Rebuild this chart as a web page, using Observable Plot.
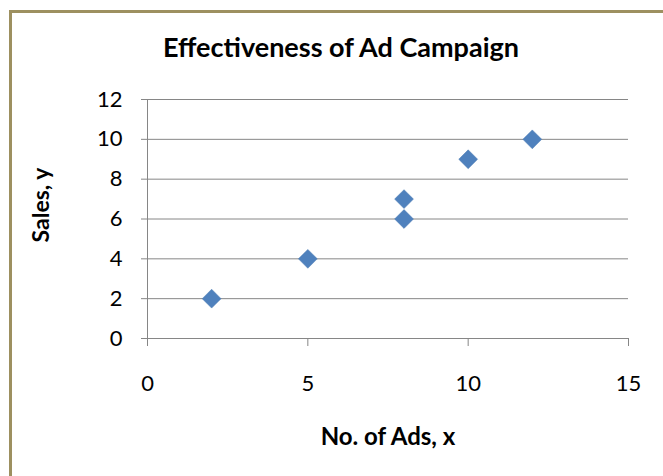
<!DOCTYPE html>
<html>
<head>
<meta charset="utf-8">
<script src="https://cdn.jsdelivr.net/npm/d3@7"></script>
<script src="https://cdn.jsdelivr.net/npm/@observablehq/plot@0.6"></script>
<style>
  html, body { margin: 0; padding: 0; background: #fff; }
  #wrap { position: relative; width: 663px; height: 476px; overflow: hidden; }
  #frame { position: absolute; left: 9px; top: 10px; width: 700px; height: 500px;
           border-left: 3px solid #9D9060; border-top: 3px solid #9D9060; box-sizing: border-box; pointer-events: none; }
  #chart { position: absolute; left: 0; top: 0; }
</style>
</head>
<body>
<div id="wrap"><div id="chart"></div><div id="frame"></div></div>
<script>
const title = "Effectiveness of Ad Campaign";
const xLabel = "No. of Ads, x";
const yLabel = "Sales, y";
const ads = [2, 5, 8, 8, 10, 12];
const sales = [2, 4, 6, 7, 9, 10];
const xTicks = [0, 5, 10, 15];
const yTicks = [0, 2, 4, 6, 8, 10, 12];

const data = ads.map((a, i) => ({x: a, y: sales[i]}));
const gray = "#868686";

const chart = Plot.plot({
  width: 663,
  height: 476,
  marginLeft: 147,
  marginRight: 35,
  marginTop: 99,
  marginBottom: 138,
  style: {fontFamily: "Lato", fontSize: "22px", color: "#000", background: "transparent"},
  x: {domain: [0, 15]},
  y: {domain: [0, 12]},
  marks: [
    Plot.gridY(yTicks, {stroke: gray, strokeOpacity: 1, strokeWidth: 1}),
    Plot.ruleX([0], {stroke: gray}),
    Plot.axisY(yTicks, {tickSize: 6, tickPadding: 19, stroke: gray, strokeOpacity: 1, label: null}),
    Plot.axisX(xTicks, {tickSize: 8, tickPadding: 29, stroke: gray, strokeOpacity: 1, label: null}),
    Plot.dot(data, {x: "x", y: "y", symbol: "diamond2", r: 8.5, fill: "#4F81BD", stroke: "#4A7AB3", strokeWidth: 0.5})
  ]
});

const svg = d3.select(chart);
svg.append("text").attr("x", 341).attr("y", 57).attr("text-anchor", "middle")
  .attr("font-family", "Lato").attr("font-weight", "bold").attr("font-size", 27).attr("fill", "#000").text(title);
svg.append("text").attr("x", 388).attr("y", 445).attr("text-anchor", "middle")
  .attr("font-family", "Lato").attr("font-weight", "bold").attr("font-size", 24).attr("fill", "#000").text(xLabel);
svg.append("text").attr("transform", "translate(49,205) rotate(-90)").attr("text-anchor", "middle")
  .attr("font-family", "Lato").attr("font-weight", "bold").attr("font-size", 23).attr("fill", "#000").text(yLabel);

document.getElementById("chart").appendChild(chart);
</script>
</body>
</html>
